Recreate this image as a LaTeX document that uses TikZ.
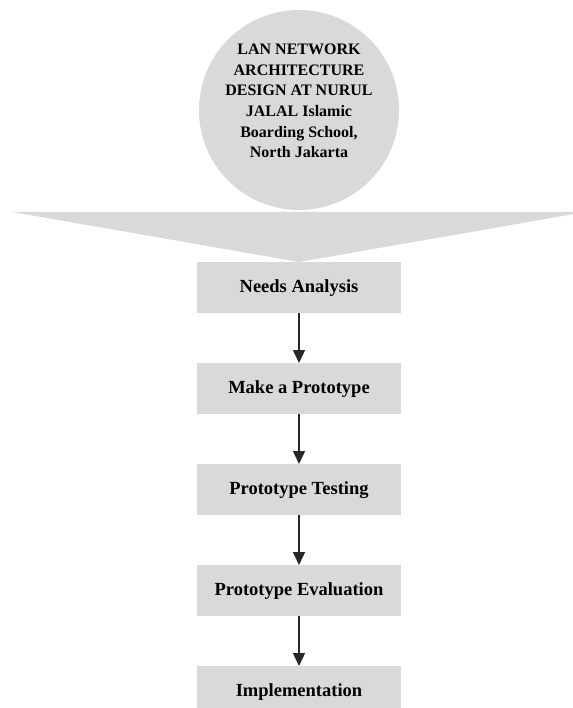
\documentclass[tikz,border=0pt]{standalone}
\usepackage{fontspec}
\setmainfont{Liberation Serif}
\usetikzlibrary{arrows.meta}
\definecolor{boxgray}{HTML}{D9D9D9}
\begin{document}
\begin{tikzpicture}[x=1pt,y=-1pt,
  stepbox/.style={fill=boxgray,draw=none,minimum width=204pt,minimum height=51pt,inner sep=0pt,
    font=\fontsize{18.5}{22}\selectfont\bfseries,anchor=north},
  flow/.style={line width=1.5pt,draw=black!85,-{Triangle[length=13pt,width=12pt]}}]
\useasboundingbox (0,0) rectangle (572,708);
\fill[white] (0,0) rectangle (572,708);
\node[circle,fill=boxgray,minimum size=200pt,inner sep=0pt] (title) at (299,110) {};
\node[align=center,font=\fontsize{16}{20.6}\selectfont\bfseries] (titletext) at (299,101)
  {LAN NETWORK\\ARCHITECTURE\\DESIGN AT NURUL\\JALAL Islamic\\Boarding School,\\North Jakarta};
\coordinate (cl) at (12.7,212);
\coordinate (cr) at (585.3,212);
\coordinate (tip) at (299,262);
\fill[boxgray] (cl) -- (cr) -- (tip) -- cycle;
\node[stepbox] (s1) at (299,262) {Needs Analysis};
\node[stepbox] (s2) at (299,363) {Make a Prototype};
\node[stepbox] (s3) at (299,464) {Prototype Testing};
\node[stepbox] (s4) at (299,565) {Prototype Evaluation};
\node[stepbox] (s5) at (299,666) {Implementation};
\draw[flow] (s1.south) -- (s2.north);
\draw[flow] (s2.south) -- (s3.north);
\draw[flow] (s3.south) -- (s4.north);
\draw[flow] (s4.south) -- (s5.north);
\end{tikzpicture}
\end{document}
